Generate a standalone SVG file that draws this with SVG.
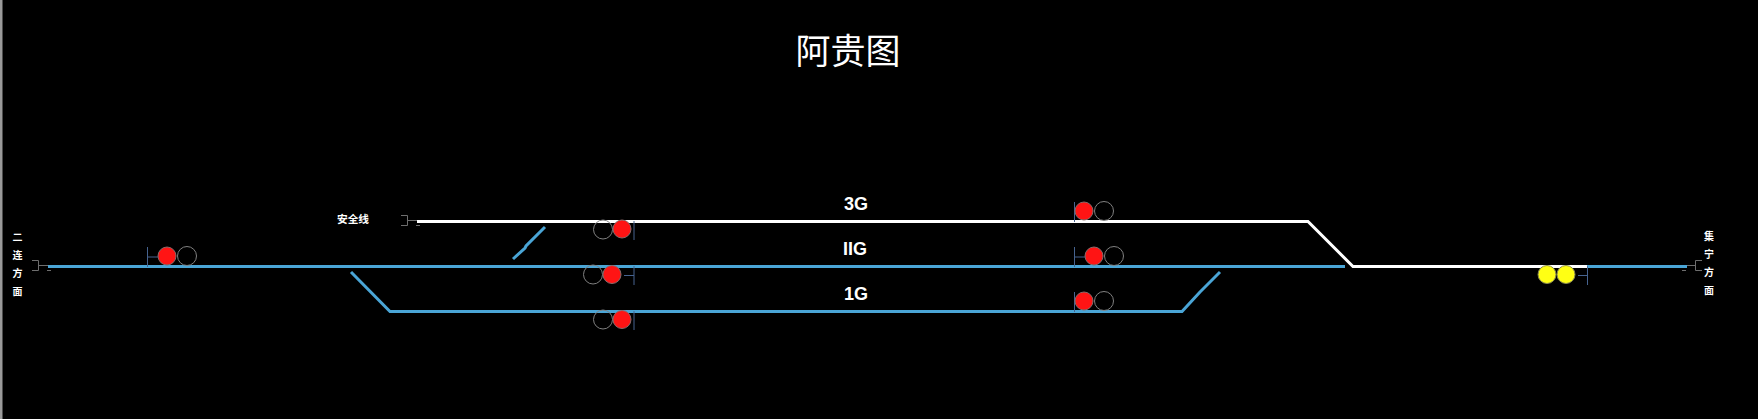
<svg xmlns="http://www.w3.org/2000/svg" width="1758" height="419" viewBox="0 0 1758 419">
<style>
.blue{fill:none;stroke:#4aa5d6;stroke-width:3}
.white{fill:none;stroke:#fff;stroke-width:3}
.stem{fill:none;stroke:#46638f;stroke-width:1}
.br{fill:none;stroke:#6e6e6e;stroke-width:1}
.on{fill:#ff1414;stroke:#8a6a6a;stroke-width:1}
.y{fill:#ffff14;stroke:#8a8a50;stroke-width:1}
.off{fill:none;stroke:#808080;stroke-width:1}
.s{font-family:"Noto Sans CJK SC","Liberation Sans",sans-serif;font-size:10px;font-weight:700;fill:#fff;text-anchor:middle}
.g{font-family:"Liberation Sans",sans-serif;font-size:18px;font-weight:700;fill:#fff;text-anchor:middle}
.t{font-family:"Noto Sans CJK SC",sans-serif;font-size:35px;font-weight:400;fill:#fff;text-anchor:middle}
</style>
<rect width="1758" height="419" fill="#000"/>
<rect width="2.500" height="419" fill="#9a9a9a"/>
<text id="title" class="t" x="848" y="64">阿贵图</text>
<g id="connectors">
<path class="white" d="M417 221.500H1308L1353 266.500H1587"/>
<path class="blue" d="M48 266.500H1345"/>
<path class="blue" d="M1587 266.500H1687"/>
<path class="blue" d="M351 272L390 311.500H1182L1200 292L1201 291L1220 272"/>
<path class="blue" d="M513 259L525 248L526 246L545 227"/>
</g>
<g id="end-left"><path class="br" d="M32 260.500H38.500V270.500H32M38.500 265.500H48M47 270.500H51"/>
<text class="s" x="17.500" y="241">二</text><text class="s" x="17.500" y="259">连</text><text class="s" x="17.500" y="277">方</text><text class="s" x="17.500" y="295">面</text></g>
<g id="end-safety"><path class="br" d="M401 215.500H407.500V225.500H401M407.500 220.500H417M416 225.500H420"/>
<text class="s" style="font-size:10.700px" x="353" y="222.500">安全线</text></g>
<g id="end-right"><path class="br" d="M1702 260.500H1695.500V270.500H1702M1687 265.500H1695.500M1682 270.500H1686"/>
<text class="s" x="1709" y="240">集</text><text class="s" x="1709" y="258">宁</text><text class="s" x="1709" y="276">方</text><text class="s" x="1709" y="294">面</text></g>
<g id="sig-left"><path class="stem" d="M147.500 247V267M147.500 257H158"/><circle class="on" cx="167" cy="256" r="9"/><circle class="off" cx="187" cy="256" r="9.500"/></g>
<g id="sig-3g-l"><path class="stem" d="M634 221V240"/><circle class="off" cx="603" cy="229.500" r="9.500"/><circle class="on" cx="622" cy="229" r="9"/></g>
<g id="sig-2g-l"><path class="stem" d="M634 266V285M624 275.500H634"/><circle class="off" cx="593" cy="274.500" r="9.500"/><circle class="on" cx="612" cy="274.500" r="9"/></g>
<g id="sig-1g-l"><path class="stem" d="M634 311V330"/><circle class="off" cx="603" cy="319.500" r="9.500"/><circle class="on" cx="622" cy="319.500" r="9"/></g>
<g id="sig-3g-r"><path class="stem" d="M1074.500 202V222"/><circle class="on" cx="1084" cy="211" r="9"/><circle class="off" cx="1104" cy="211" r="9.500"/></g>
<g id="sig-2g-r"><path class="stem" d="M1074.500 247V267M1074.500 257H1085"/><circle class="on" cx="1094" cy="256" r="9"/><circle class="off" cx="1114" cy="256" r="9.500"/></g>
<g id="sig-1g-r"><path class="stem" d="M1074.500 292V312"/><circle class="on" cx="1084" cy="301" r="9"/><circle class="off" cx="1104" cy="301" r="9.500"/></g>
<g id="sig-right"><path class="stem" d="M1587.500 266V285M1578 275.500H1587.500"/><circle class="y" cx="1547" cy="274.500" r="9"/><circle class="y" cx="1566" cy="274.500" r="9"/></g>
<g id="labels"><text class="g" x="856" y="209.500">3G</text><text class="g" x="855" y="254.500">IIG</text><text class="g" x="856" y="299.500">1G</text></g>
</svg>
